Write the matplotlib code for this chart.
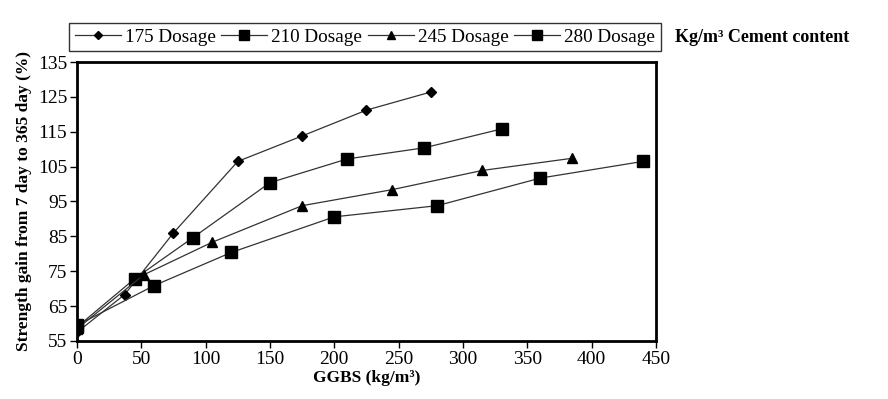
import matplotlib.pyplot as plt

plt.rcParams['font.family'] = ['Liberation Serif', 'DejaVu Serif']

x175 = [0, 37, 75, 125, 175, 225, 275]
y175 = [57.5, 68.3, 86.0, 106.5, 113.8, 121.2, 126.4]
x210 = [0, 45, 90, 150, 210, 270, 330]
y210 = [59.0, 72.9, 84.6, 100.4, 107.2, 110.4, 115.8]
x245 = [0, 52, 105, 175, 245, 315, 385]
y245 = [58.5, 74.0, 83.3, 93.8, 98.4, 103.9, 107.4]
x280 = [0, 60, 120, 200, 280, 360, 440]
y280 = [59.5, 70.9, 80.4, 90.6, 93.8, 101.7, 106.5]

labels = ['175 Dosage', '210 Dosage', '245 Dosage', '280 Dosage']

fig = plt.figure(figsize=(8.88, 3.99), dpi=100)
ax = fig.add_axes([0.0867, 0.1454, 0.652, 0.6992])

lc = '#333333'
ax.plot(x175, y175, color=lc, lw=0.9, marker='D', ms=5, mfc='k', mec='k', label=labels[0])
ax.plot(x210, y210, color=lc, lw=0.9, marker='s', ms=9, mfc='k', mec='k', label=labels[1])
ax.plot(x245, y245, color=lc, lw=0.9, marker='^', ms=7, mfc='k', mec='k', label=labels[2])
ax.plot(x280, y280, color=lc, lw=0.9, marker='s', ms=9, mfc='k', mec='k', label=labels[3])

ax.set_xlim(0, 450)
ax.set_ylim(55, 135)
ax.set_xticks(range(0, 451, 50))
ax.set_yticks(range(55, 136, 10))
ax.tick_params(direction='out', length=5, width=1, labelsize=14, pad=2)
for s in ax.spines.values():
    s.set_linewidth(2)

ax.set_xlabel('GGBS (kg/m³)', fontsize=12.5, fontweight='bold', labelpad=2)
ax.set_ylabel('Strength gain from 7 day to 365 day (%)', fontsize=12.5, fontweight='bold', labelpad=4)

leg = fig.legend(loc='center', bbox_to_anchor=(365 / 888, 1 - 37 / 399), ncol=4,
                 fontsize=13.8, frameon=True, fancybox=False, edgecolor='k',
                 handlelength=2.4, handletextpad=0.2, columnspacing=0.3,
                 borderpad=0.3, markerscale=0.75)
leg.get_frame().set_linewidth(1)

fig.text(675 / 888, 1 - 37 / 399, 'Kg/m³ Cement content', fontsize=13,
         fontweight='bold', va='center', ha='left')

fig.savefig('out.png', dpi=100)
